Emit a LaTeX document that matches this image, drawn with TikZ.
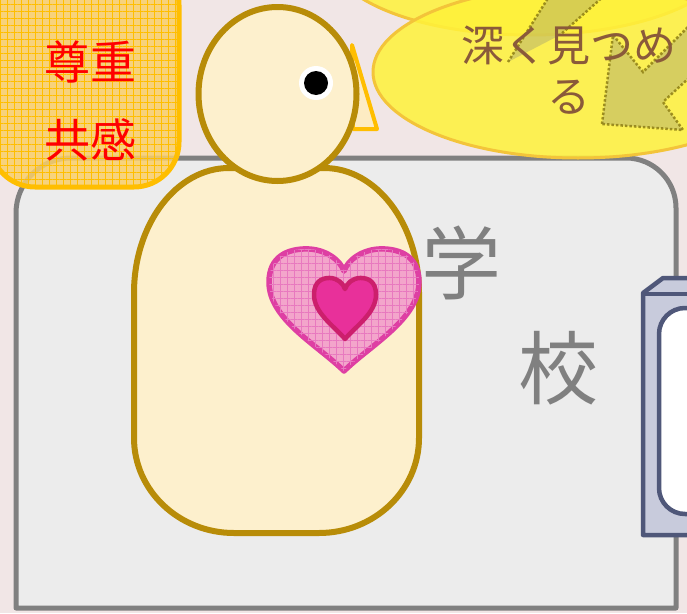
\documentclass[tikz,border=0pt]{standalone}
\usepackage{fontspec}
\newfontfamily\jpfont{Noto Sans CJK JP}
\usetikzlibrary{patterns.meta}

\definecolor{bgpink}{HTML}{F1E6E6}
\definecolor{schoolfill}{HTML}{ECECEC}
\definecolor{schoolline}{HTML}{808080}
\definecolor{skin}{HTML}{FDF0CD}
\definecolor{skinline}{HTML}{B88C08}
\definecolor{memofill}{HTML}{F9CF6A}
\definecolor{memoline}{HTML}{FFBE00}
\definecolor{glow}{HTML}{FFF23A}
\definecolor{glowline}{HTML}{F3C43A}
\definecolor{gazetext}{HTML}{8A5A3A}
\definecolor{heartfill}{HTML}{F3A5CB}
\definecolor{heartline}{HTML}{DE3FA3}
\definecolor{coreheart}{HTML}{E8309A}
\definecolor{coreline}{HTML}{CC1F6C}
\definecolor{framefill}{HTML}{C8CBDC}
\definecolor{frameline}{HTML}{4F5779}
\definecolor{arrowline}{HTML}{8A7A10}

% heart outline, tip at the origin, lobes up to y=1.65
\newcommand{\heartpath}{(0,0) .. controls (-0.35,0.35) and (-1,0.7) .. (-1,1.2)
  .. controls (-1,1.55) and (-0.75,1.65) .. (-0.5,1.65)
  .. controls (-0.25,1.65) and (-0.05,1.5) .. (0,1.35)
  .. controls (0.05,1.5) and (0.25,1.65) .. (0.5,1.65)
  .. controls (0.75,1.65) and (1,1.55) .. (1,1.2)
  .. controls (1,0.7) and (0.35,0.35) .. (0,0) -- cycle}

\begin{document}
\begin{tikzpicture}[x=1pt,y=-1pt]
	\tikzset{outline/.style={line width=6pt,line join=round}}
	\tikzset{gridfill/.style={postaction={pattern={Hatch[angle=0,distance=7pt,line width=0.4pt]},pattern color=#1}}}
	\tikzset{bubble/.style={draw=glowline,fill=glow,fill opacity=0.85,line width=3pt}}
	\tikzset{gazearrow/.style={fill=gray,fill opacity=0.3,draw=arrowline,draw opacity=0.8,line width=2.5pt,dotted}}
	\tikzset{kanji/.style={font=\jpfont\fontsize{#1}{#1}\selectfont,inner sep=0pt}}

	\useasboundingbox (0,0) rectangle (687,613);
	\clip (0,0) rectangle (687,613);
	\fill[bgpink] (0,0) rectangle (687,613);

	% school ground
	\draw[draw=schoolline,fill=schoolfill,line width=5pt,line join=round]
		(16,608) -- (16,213) arc[start angle=180,end angle=270,radius=55]
		-- (626,158) arc[start angle=270,end angle=360,radius=50] -- (676,608) -- cycle;
	\node[kanji=80,text=schoolline] (gaku) at (461,263) {学};
	\node[kanji=80,text=schoolline] (kou) at (558,368) {校};

	% screen at the right edge
	\draw[draw=frameline,fill=framefill,line width=4.5pt,line join=round]
		(643,535) -- (643,293) -- (663,278) -- (700,278) -- (700,535) -- cycle;
	\draw[frameline,line width=4.5pt] (643,294) -- (700,294);
	\draw[draw=frameline,fill=white,line width=4.5pt,rounded corners=26pt]
		(720,308) -- (659,308) -- (659,514) -- (720,514);

	% gaze bubbles
	\draw[bubble] (530,-45) ellipse[x radius=200,y radius=80];
	\draw[bubble] (578,72) ellipse[x radius=205,y radius=86];
	\draw[gazearrow] (508,62) -- (550,-5) -- (605,-5) -- (560,35);
	\draw[gazearrow] (602,124) -- (613,35) -- (643,72) -- (705,10) -- (730,40)
		-- (663,102) -- (683,130) -- cycle;
	\node[kanji=43,text=gazetext,align=center] (gaze) at (569,70)
		{深く見つめ\\[8pt]る};

	% body and head
	\draw[outline,draw=skinline,fill=skin]
		(134,293) arc[start angle=180,end angle=270,x radius=95,y radius=125]
		-- (324,168) arc[start angle=270,end angle=360,x radius=95,y radius=125]
		-- (419,438) arc[start angle=0,end angle=90,x radius=100,y radius=95]
		-- (234,533) arc[start angle=90,end angle=180,x radius=100,y radius=95]
		-- cycle;
	\draw[draw=memoline,fill=white!60!memofill,line width=4pt,line join=round]
		(352,45) -- (377,129) -- (353,129) -- cycle;
	\draw[outline,draw=skinline,fill=skin] (277.5,94) ellipse[x radius=79,y radius=87];
	\fill[white] (316,83) circle[radius=17];
	\fill[black] (316,83) circle[radius=12];

	% hearts
	\begin{scope}[shift={(344,371)},xscale=75,yscale=-74]
		\draw[draw=heartline,fill=heartfill,line width=5.5pt,line join=round,gridfill=heartline!70] \heartpath;
	\end{scope}
	\begin{scope}[shift={(345,339)},xscale=31,yscale=-37]
		\draw[draw=coreline,fill=coreheart,line width=4.5pt,line join=round] \heartpath;
	\end{scope}

	% note box
	\draw[draw=memoline,fill=memofill,fill opacity=0.85,line width=5pt,
		rounded corners=45pt,gridfill=memoline]
		(-10,-40) rectangle (179,187);
	\node[kanji=46,text=red] (sonchou) at (90,62) {尊重};
	\node[kanji=46,text=red] (kyoukan) at (90,140) {共感};
\end{tikzpicture}
\end{document}
